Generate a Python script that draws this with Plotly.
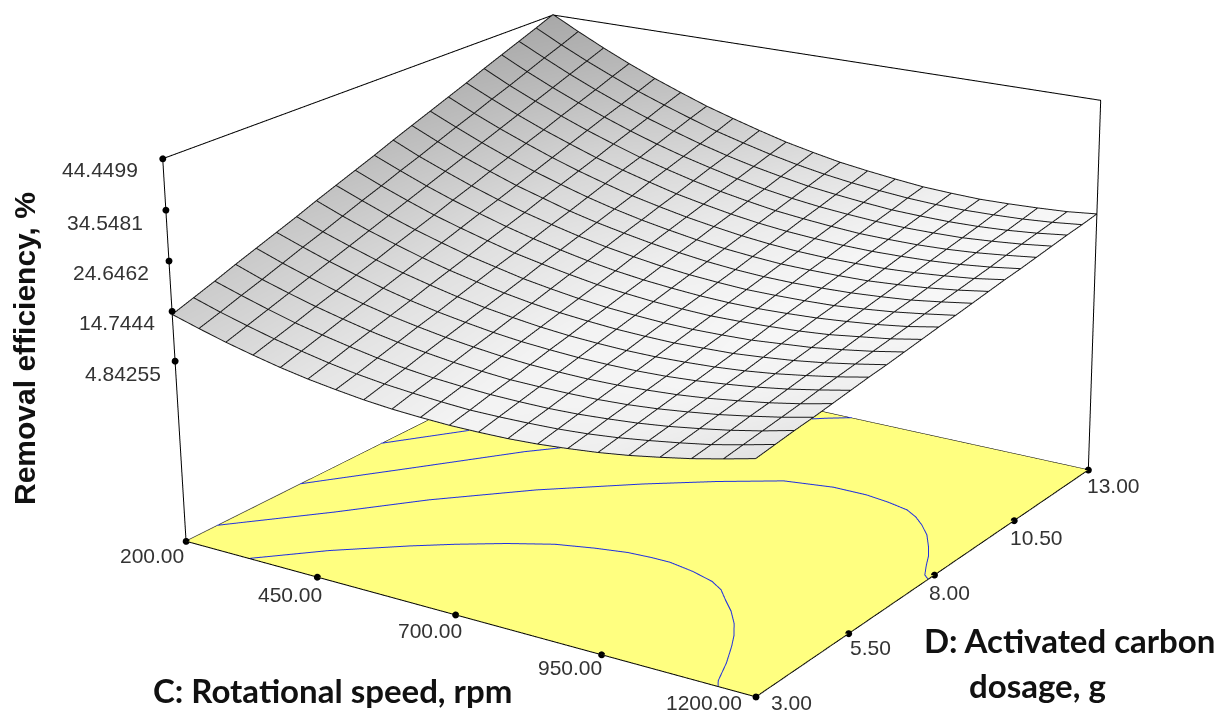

import numpy as np
import plotly.graph_objects as go

rotational_speed = [200,250,300,350,400,450,500,550,600,650,700,750,800,850,900,950,1000,1050,1100,1150,1200]
carbon_dosage = [3.0,3.5,4.0,4.5,5.0,5.5,6.0,6.5,7.0,7.5,8.0,8.5,9.0,9.5,10.0,10.5,11.0,11.5,12.0,12.5,13.0]
removal_efficiency = [
[14.0,12.4,10.9,9.6,8.4,7.4,6.6,5.9,5.4,5.1,4.9,4.9,5.0,5.3,5.8,6.4,7.2,8.2,9.3,10.6,12.0],
[15.5,13.8,12.3,10.9,9.7,8.6,7.7,7.0,6.5,6.1,5.8,5.8,5.9,6.1,6.5,7.1,7.9,8.8,9.8,11.1,12.5],
[17.0,15.3,13.7,12.2,11.0,9.9,8.9,8.1,7.5,7.1,6.8,6.7,6.7,6.9,7.3,7.8,8.5,9.4,10.4,11.6,13.0],
[18.6,16.7,15.1,13.6,12.3,11.1,10.1,9.3,8.6,8.1,7.7,7.6,7.6,7.7,8.0,8.5,9.2,10.0,11.0,12.1,13.4],
[20.1,18.2,16.5,14.9,13.5,12.3,11.3,10.4,9.7,9.1,8.7,8.5,8.4,8.5,8.8,9.2,9.8,10.6,11.5,12.6,13.9],
[21.6,19.7,17.9,16.3,14.8,13.5,12.4,11.5,10.7,10.1,9.7,9.4,9.3,9.3,9.5,9.9,10.5,11.2,12.1,13.2,14.4],
[23.1,21.1,19.3,17.6,16.1,14.8,13.6,12.6,11.8,11.1,10.6,10.3,10.1,10.1,10.3,10.6,11.1,11.8,12.7,13.7,14.9],
[24.7,22.6,20.7,19.0,17.4,16.0,14.8,13.7,12.8,12.1,11.6,11.2,11.0,10.9,11.1,11.3,11.8,12.4,13.2,14.2,15.3],
[26.2,24.1,22.1,20.3,18.7,17.2,16.0,14.8,13.9,13.1,12.5,12.1,11.8,11.7,11.8,12.0,12.5,13.0,13.8,14.7,15.8],
[27.7,25.5,23.5,21.6,20.0,18.5,17.1,16.0,15.0,14.1,13.5,13.0,12.7,12.5,12.6,12.8,13.1,13.6,14.4,15.2,16.3],
[29.2,27.0,24.9,23.0,21.3,19.7,18.3,17.1,16.0,15.1,14.4,13.9,13.5,13.3,13.3,13.5,13.8,14.3,14.9,15.7,16.8],
[30.8,28.4,26.3,24.3,22.5,20.9,19.5,18.2,17.1,16.2,15.4,14.8,14.4,14.1,14.1,14.2,14.4,14.9,15.5,16.3,17.2],
[32.3,29.9,27.7,25.7,23.8,22.2,20.6,19.3,18.2,17.2,16.4,15.7,15.2,14.9,14.8,14.9,15.1,15.5,16.0,16.8,17.7],
[33.8,31.4,29.1,27.0,25.1,23.4,21.8,20.4,19.2,18.2,17.3,16.6,16.1,15.7,15.6,15.6,15.7,16.1,16.6,17.3,18.2],
[35.3,32.8,30.5,28.4,26.4,24.6,23.0,21.5,20.3,19.2,18.3,17.5,16.9,16.5,16.3,16.3,16.4,16.7,17.2,17.8,18.7],
[36.8,34.3,31.9,29.7,27.7,25.8,24.2,22.7,21.3,20.2,19.2,18.4,17.8,17.4,17.1,17.0,17.1,17.3,17.7,18.3,19.1],
[38.4,35.7,33.3,31.1,29.0,27.1,25.3,23.8,22.4,21.2,20.2,19.3,18.7,18.2,17.8,17.7,17.7,17.9,18.3,18.9,19.6],
[39.9,37.2,34.7,32.4,30.3,28.3,26.5,24.9,23.5,22.2,21.1,20.2,19.5,19.0,18.6,18.4,18.4,18.5,18.9,19.4,20.1],
[41.4,38.7,36.1,33.7,31.5,29.5,27.7,26.0,24.5,23.2,22.1,21.1,20.4,19.8,19.3,19.1,19.0,19.1,19.4,19.9,20.6],
[42.9,40.1,37.5,35.1,32.8,30.8,28.9,27.1,25.6,24.2,23.0,22.0,21.2,20.6,20.1,19.8,19.7,19.8,20.0,20.4,21.0],
[44.45,41.6,38.9,36.4,34.1,32.0,30.0,28.3,26.7,25.2,24.0,22.9,22.1,21.4,20.8,20.5,20.3,20.4,20.6,20.9,21.5],
]
contour1_c = [324,404,494,548,610,672,730,781,820,853,900,943,970,994,1022,1048,1070,1087,1110,1131,1140]
contour1_d = [3.0,3.88,4.68,5.11,5.55,5.92,6.12,6.25,6.28,6.28,6.17,6.01,5.82,5.55,5.25,4.91,4.55,4.21,3.70,3.15,3.0]
contour2_c = [200,224,316,409,524,650,740,826,904,963,1005,1045,1070,1093,1118,1142,1160,1173,1189,1200]
contour2_d = [3.73,4.02,5.12,6.33,7.57,8.69,9.40,9.99,10.18,10.18,10.10,9.98,9.80,9.57,9.27,8.88,8.55,8.25,7.91,7.8]
contour3_c = [200,226,304,415,460,575,696,741,775]
contour3_d = [5.77,6.14,7.24,8.83,9.36,10.93,12.36,12.75,13.0]
contour4_c = [200,221,283,378,560,630]
contour4_d = [7.88,8.19,9.10,10.97,12.7,13.0]
c_ticks = [200,450,700,950,1200]
c_labels = ["200.00","450.00","700.00","950.00","1200.00"]
d_ticks = [3.0,5.5,8.0,10.5,13.0]
d_labels = ["3.00","5.50","8.00","10.50","13.00"]
z_ticks = [4.84255,14.7444,24.6462,34.5481,44.4499]
z_labels = ["4.84255","14.7444","24.6462","34.5481","44.4499"]

Z_FLOOR = -31.84
Z_MAX = 44.4499
H = 2899
TOP_SHIFT = 357 - H // 2
# label offsets from the tick dot, pixels (right, down)
c_off = [(0,14),(7,17),(8,16),(2,13),(-12,6)]
d_off = [(13,6),(-1,14),(-7,18),(-6,17),(-3,16)]
z_off = [(-12,12),(-15,11),(-18,12),(-21,12),(-23,11)]
# grey level of the mesh: rows D=3..13, columns C=200..1200
shade = np.array([[205,228,243,238,225],[200,225,243,245,238],[190,222,240,246,245],[180,212,232,245,248],[168,195,220,240,248]], float)
su = np.linspace(0, 1, 5)
cu = np.linspace(0, 1, 21)
tmp = np.array([np.interp(cu, su, r) for r in shade])
shade21 = np.array([np.interp(cu, su, tmp[:, i]) for i in range(21)]).T

def px(x, y):
    return dict(x=x / 1224, y=1 - (y - TOP_SHIFT) / H, xref='paper', yref='paper', showarrow=False)

LN = dict(color='black', width=2)
fig = go.Figure()
flat = dict(ambient=1, diffuse=0, specular=0, fresnel=0, roughness=1)
fig.add_trace(go.Surface(x=[200,1200], y=[3,13], z=[[Z_FLOOR,Z_FLOOR],[Z_FLOOR,Z_FLOOR]],
    colorscale=[[0,'#FFFF80'],[1,'#FFFF80']], showscale=False, lighting=flat, hoverinfo='skip'))
fig.add_trace(go.Surface(x=rotational_speed, y=carbon_dosage, z=removal_efficiency, surfacecolor=shade21,
    cmin=0, cmax=255, colorscale=[[0,'#000000'],[1,'#ffffff']], showscale=False, lighting=flat, hoverinfo='skip'))
# mesh lines, just above the sheet
zt = np.array(removal_efficiency)
mx, my, mz = [], [], []
for j, d in enumerate(carbon_dosage):
    mx += rotational_speed + [None]; my += [d]*21 + [None]; mz += list(zt[j] + 0.12) + [None]
for i, c in enumerate(rotational_speed):
    mx += [c]*21 + [None]; my += carbon_dosage + [None]; mz += list(zt[:, i] + 0.12) + [None]
fig.add_trace(go.Scatter3d(x=mx, y=my, z=mz, mode='lines', line=dict(color='#1a1a1a', width=2), connectgaps=False, hoverinfo='skip'))
for cx, cy in [(contour1_c,contour1_d),(contour2_c,contour2_d),(contour3_c,contour3_d),(contour4_c,contour4_d)]:
    fig.add_trace(go.Scatter3d(x=cx, y=cy, z=[Z_FLOOR+0.1]*len(cx), mode='lines', line=dict(color='#2030E0',width=2), hoverinfo='skip'))
fig.add_trace(go.Scatter3d(x=[200,1200,1200,200,200,200,200,1200,1200], y=[3,3,13,13,3,3,13,13,13],
    z=[Z_FLOOR,Z_FLOOR,Z_FLOOR,Z_FLOOR,Z_FLOOR,Z_MAX,Z_MAX,Z_MAX,Z_FLOOR], mode='lines', line=LN, hoverinfo='skip'))
fig.add_trace(go.Scatter3d(x=[200,200], y=[13,13], z=[Z_FLOOR,Z_MAX], mode='lines', line=LN, hoverinfo='skip'))
mk = dict(color='black', size=4)
fig.add_trace(go.Scatter3d(x=c_ticks, y=[3]*5, z=[Z_FLOOR]*5, mode='markers', marker=mk, hoverinfo='skip'))
fig.add_trace(go.Scatter3d(x=[1200]*5, y=d_ticks, z=[Z_FLOOR]*5, mode='markers', marker=mk, hoverinfo='skip'))
fig.add_trace(go.Scatter3d(x=[200]*5, y=[3]*5, z=z_ticks, mode='markers', marker=mk, hoverinfo='skip'))

TF = dict(family='Liberation Sans, Arial', size=21, color='#333333')
ann = []
for v, t, o in zip(c_ticks, c_labels, c_off):
    ann.append(dict(x=v, y=3, z=Z_FLOOR, text=t, showarrow=False, xanchor='right', yanchor='middle', xshift=o[0], yshift=-o[1], font=TF))
for v, t, o in zip(d_ticks, d_labels, d_off):
    ann.append(dict(x=1200, y=v, z=Z_FLOOR, text=t, showarrow=False, xanchor='left', yanchor='middle', xshift=o[0], yshift=-o[1], font=TF))
for v, t, o in zip(z_ticks, z_labels, z_off):
    ann.append(dict(x=200, y=3, z=v, text=t, showarrow=False, xanchor='right', yanchor='middle', xshift=o[0], yshift=-o[1], font=TF))

BF = dict(family='Lato', size=33, color='#111111')
fig.update_layout(width=1224, height=H, autosize=False, margin=dict(l=0,r=0,t=0,b=0), showlegend=False, paper_bgcolor='white',
    annotations=[
        dict(**px(332,690), text='<b>C: Rotational speed, rpm</b>', font=BF, xanchor='center', yanchor='middle'),
        dict(**px(1069,640), text='<b>D: Activated carbon</b>', font=BF, xanchor='center', yanchor='middle'),
        dict(**px(967,685), text='<b>dosage, g</b>', font=BF, xanchor='left', yanchor='middle'),
        dict(**px(25,349), text='<b>Removal efficiency, %</b>', font=dict(family='Liberation Sans, Arial', size=30, color='#111111'), textangle=-90, xanchor='center', yanchor='middle'),
    ],
    scene=dict(domain=dict(x=[0,1],y=[0,1]), aspectmode='manual', aspectratio=dict(x=1.04,y=1.00641,z=0.61932),
        camera=dict(eye=dict(x=2.7576,y=-4.077,z=1.7156),
                    center=dict(x=2.7576-0.5347*5.2,y=-4.077+0.774*5.2,z=1.7156-0.3392*5.2),
                    up=dict(x=-0.1796,y=0.2881,z=0.9406), projection=dict(type='perspective')),
        xaxis=dict(visible=False,range=[180,1220]), yaxis=dict(visible=False,range=[2.8,13.2]), zaxis=dict(visible=False,range=[-33.37,46.32]),
        annotations=ann))
fig.write_html("out.html", post_script="var g=document.getElementById('{plot_id}');document.body.style.margin='0';document.documentElement.style.overflow='hidden';document.body.style.overflow='hidden';g.style.marginTop='%dpx';" % TOP_SHIFT)
